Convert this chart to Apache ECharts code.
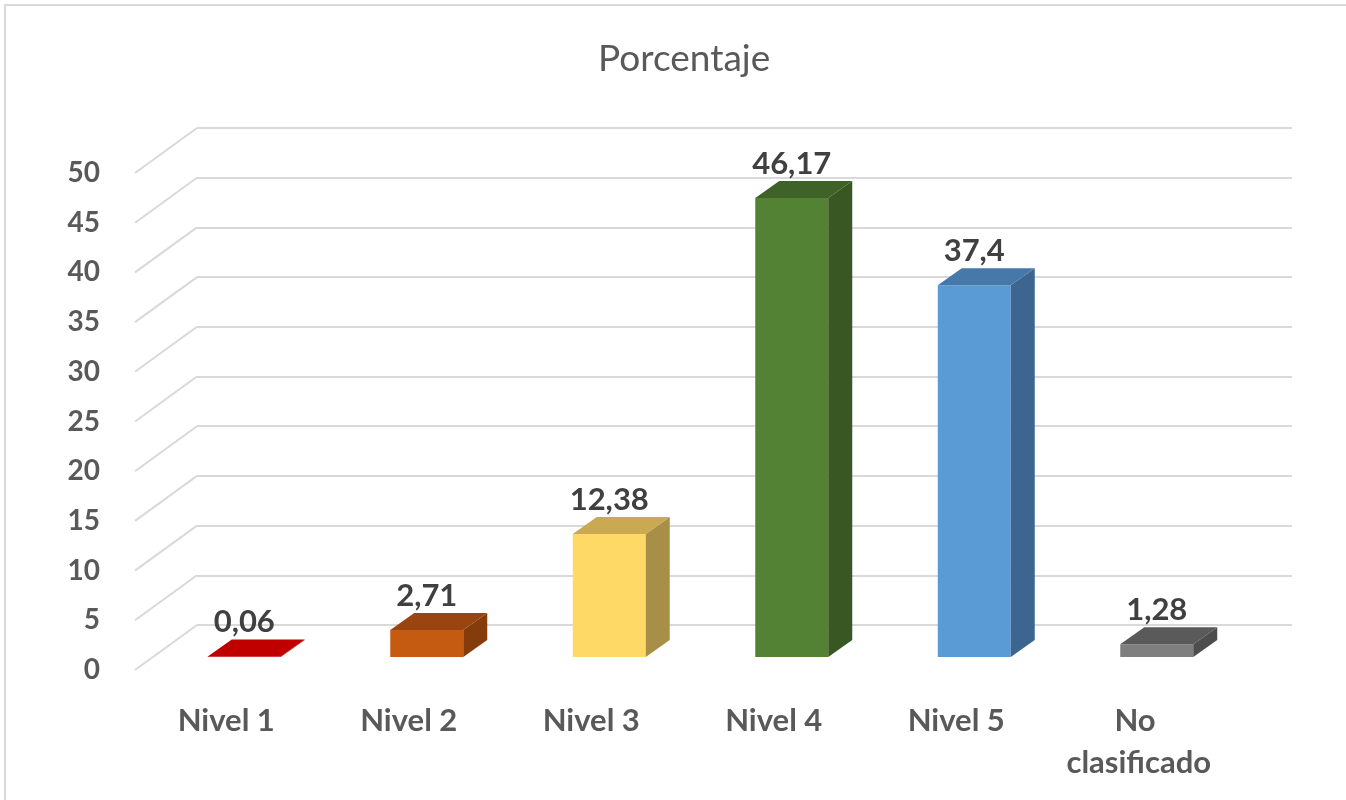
<!DOCTYPE html>
<html>
<head>
    <title>Porcentaje</title>
    <script src="https://cdn.jsdelivr.net/npm/echarts@6/dist/echarts.min.js"></script>
    <style>
        html, body { margin: 0; padding: 0; background: #fff; overflow: hidden; }
        #chart { width: 1346px; height: 800px; }
    </style>
</head>
<body>
<div id="chart"></div>

<script>
    var categories = ['Nivel 1', 'Nivel 2', 'Nivel 3', 'Nivel 4', 'Nivel 5', 'No clasificado'];
    var values = [0.06, 2.71, 12.38, 46.17, 37.4, 1.28];
    var yTicks = [0, 5, 10, 15, 20, 25, 30, 35, 40, 45, 50];

    // front / top / side colours per bar
    var frontColors = ['#c00000', '#c55a11', '#ffd966', '#548235', '#5b9bd5', '#7f7f7f'];
    var topColors = ['#c00000', '#9a4510', '#c9aa52', '#3f6228', '#4679aa', '#5a5a5a'];
    var sideColors = ['#900000', '#843c0c', '#a88f48', '#385723', '#3c6590', '#4d4d4d'];

    // 3d depth of the floor and of the bars (pixels)
    var WALL_DX = 62, WALL_DY = 45;
    var BAR_OFF_X = 18, BAR_OFF_Y = 13;
    var BAR_DX = 24, BAR_DY = 17;

    var FONT = 'Lato, "Open Sans", sans-serif';

    var chart = echarts.init(document.getElementById('chart'));

    function renderBar(params, api) {
        var i = api.value(0);
        var v = api.value(1);
        var base = api.coord([i, 0]);
        var top = api.coord([i, v]);
        var bw = api.size([1, 0])[0] * 0.4;
        var x0 = base[0] - bw / 2 + BAR_OFF_X;
        var x1 = x0 + bw;
        var yb = base[1] - BAR_OFF_Y;
        var yt = top[1] - BAR_OFF_Y;
        return {
            type: 'group',
            children: [{
                type: 'rect',
                shape: { x: x0, y: yt, width: bw, height: Math.max(yb - yt, 0.5) },
                style: { fill: frontColors[i] }
            }, {
                type: 'polygon',
                shape: { points: [[x1, yb], [x1 + BAR_DX, yb - BAR_DY], [x1 + BAR_DX, yt - BAR_DY], [x1, yt]] },
                style: { fill: sideColors[i] }
            }, {
                type: 'polygon',
                shape: { points: [[x0, yt], [x0 + BAR_DX, yt - BAR_DY], [x1 + BAR_DX, yt - BAR_DY], [x1, yt]] },
                style: { fill: topColors[i] }
            }, {
                type: 'text',
                x: x0 + bw / 2,
                y: yt - 34,
                style: {
                    text: String(v).replace('.', ','),
                    fill: '#404040',
                    font: 'bold 31px ' + FONT,
                    align: 'center',
                    verticalAlign: 'middle'
                }
            }]
        };
    }

    function renderDiagonal(params, api) {
        var p = api.coord([0, api.value(0)]);
        var left = p[0] - api.size([1, 0])[0] / 2;
        return {
            type: 'line',
            shape: { x1: left, y1: p[1], x2: left + WALL_DX, y2: p[1] - WALL_DY },
            style: { stroke: '#d9d9d9', lineWidth: 2 }
        };
    }

    var option = {
        backgroundColor: '#fff',
        animation: false,
        title: {
            text: 'Porcentaje',
            left: 593,
            top: 26,
            textStyle: {
                color: '#595959',
                fontSize: 37,
                fontWeight: 'normal',
                fontFamily: FONT
            }
        },
        graphic: [{
            type: 'rect',
            shape: { x: 5, y: 5, width: 1400, height: 900 },
            style: { fill: 'none', stroke: '#d9d9d9', lineWidth: 2 },
            silent: true
        }],
        grid: [
            { left: 135, right: 116, top: 173, bottom: 130 },
            { left: 197, right: 54, top: 128, bottom: 175 }
        ],
        xAxis: [{
            type: 'category',
            gridIndex: 0,
            data: categories,
            axisLine: { show: false },
            axisTick: { show: false },
            axisLabel: {
                color: '#595959',
                fontSize: 31,
                fontWeight: 'bold',
                fontFamily: FONT,
                margin: 30,
                lineHeight: 42,
                width: 165,
                overflow: 'break',
                interval: 0
            }
        }, {
            type: 'category',
            gridIndex: 1,
            data: categories,
            show: false
        }],
        yAxis: [{
            type: 'value',
            gridIndex: 0,
            min: 0,
            max: 50,
            interval: 5,
            axisLine: { show: false },
            axisTick: { show: false },
            splitLine: { show: false },
            axisLabel: {
                color: '#595959',
                fontSize: 28,
                fontWeight: 'bold',
                fontFamily: FONT,
                margin: 35
            }
        }, {
            type: 'value',
            gridIndex: 1,
            min: 0,
            max: 50,
            interval: 5,
            axisLine: { show: false },
            axisTick: { show: false },
            axisLabel: { show: false },
            splitLine: { show: true, lineStyle: { color: '#d9d9d9', width: 2 } }
        }],
        series: [{
            type: 'custom',
            xAxisIndex: 0,
            yAxisIndex: 0,
            renderItem: renderDiagonal,
            data: yTicks.map(function (t) { return [t]; }),
            encode: { y: 0 },
            silent: true,
            z: 1
        }, {
            type: 'custom',
            xAxisIndex: 0,
            yAxisIndex: 0,
            renderItem: renderBar,
            data: values.map(function (v, i) { return [i, v]; }),
            encode: { x: 0, y: 1 },
            z: 5
        }]
    };

    chart.setOption(option);
</script>
</body>
</html>
